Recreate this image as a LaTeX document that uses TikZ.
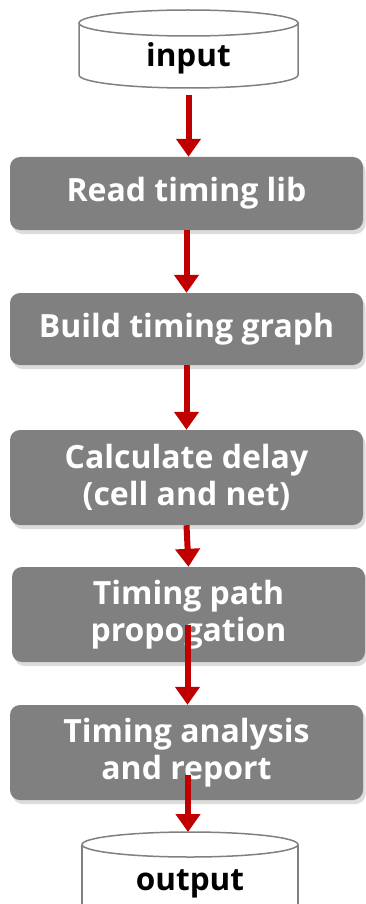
\documentclass[tikz,border=0pt]{standalone}
\usepackage{fontspec}
\setmainfont{Open Sans}
\usetikzlibrary{arrows.meta,shadows}
\definecolor{boxgray}{RGB}{128,128,128}
\definecolor{rimgray}{RGB}{128,128,128}
\definecolor{flowred}{RGB}{192,0,0}
\begin{document}
\begin{tikzpicture}[x=1pt,y=1pt,
  stage/.style={rectangle, rounded corners=10pt, fill=boxgray, text=white,
    minimum width=353pt, inner sep=0pt, align=center,
    font=\bfseries\fontsize{32}{37}\selectfont,
    drop shadow={shadow xshift=2.5pt, shadow yshift=-4pt, opacity=0.28}},
  store/.style={inner sep=0pt, text=black, font=\bfseries\fontsize{31.5}{36}\selectfont},
  rim/.style={draw=rimgray, line width=1.5pt, fill=white},
  flow/.style={draw=flowred, line width=6pt,
    -{Triangle[width=24pt,length=18pt]}}
]
\useasboundingbox (0,0) rectangle (365,-904);

% input data store
\path[rim] (79,-23) -- (79,-75) arc[start angle=180, end angle=360, x radius=109.5, y radius=13]
  -- (298,-23);
\path[rim] (188.5,-23) ellipse[x radius=109.5, y radius=13];
\node[store, anchor=base] (in) at (188.5,-67) {input};

% processing stages
\node[stage, minimum height=73pt] (s1) at (186.5,-193.5) {Read timing lib};
\node[stage, minimum height=72pt] (s2) at (186.5,-329) {Build timing graph};
\node[stage, minimum height=95pt] (s3) at (186.5,-477.5) {Calculate delay\\(cell and net)};
\node[stage, minimum height=95pt] (s4) at (188.5,-614.5) {Timing path\\propogation};
\node[stage, minimum height=95pt] (s5) at (186.5,-752.5) {Timing analysis\\and report};

% output data store
\begin{scope}
\clip (0,0) rectangle (365,-904);
\path[rim] (82,-844.5) -- (82,-920) -- (298,-920) -- (298,-844.5);
\path[rim] (190,-844.5) ellipse[x radius=108, y radius=12.5];
\end{scope}
\coordinate (outtop) at (188,-832);
\node[store, anchor=base] (out) at (190,-890) {output};

% connectors
\coordinate (p1) at (188.5,-95);
\coordinate (p4) at (187.5,-625);
\coordinate (p5) at (188,-775);
\draw[flow] (p1) -- (p1 |- s1.north);
\draw[flow] (s1.south) -- (s2.north);
\draw[flow] (s2.south) -- (s3.north);
\draw[flow] (s3.south) -- (s4.north);
\draw[flow] (p4) -- (p4 |- s5.north);
\draw[flow] (p5) -- (outtop);
\end{tikzpicture}
\end{document}
